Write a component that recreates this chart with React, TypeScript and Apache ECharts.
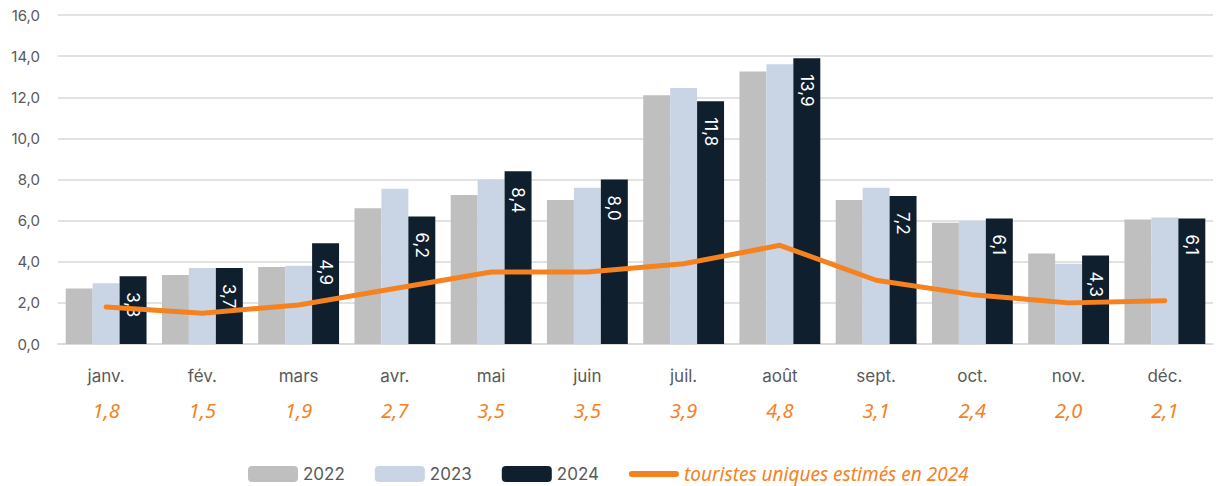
import React, { useEffect, useRef } from "react";
import * as echarts from "echarts";

const months = ["janv.", "fév.", "mars", "avr.", "mai", "juin", "juil.", "août", "sept.", "oct.", "nov.", "déc."];
const values2022 = [2.7, 3.35, 3.75, 6.6, 7.25, 7.0, 12.1, 13.25, 7.0, 5.9, 4.4, 6.05];
const values2023 = [2.95, 3.7, 3.8, 7.55, 8.0, 7.6, 12.45, 13.6, 7.6, 6.0, 3.9, 6.15];
const values2024 = [3.3, 3.7, 4.9, 6.2, 8.4, 8.0, 11.8, 13.9, 7.2, 6.1, 4.3, 6.1];
const tourists = [1.8, 1.5, 1.9, 2.7, 3.5, 3.5, 3.9, 4.8, 3.1, 2.4, 2.0, 2.1];
const yTicks = { min: 0, max: 16, interval: 2 };

const fmt = (v: number) => v.toFixed(1).replace(".", ",");
const FONT = "Inter, 'Noto Sans', sans-serif";
const HAND = "'Noto Sans', 'DejaVu Sans', sans-serif";
const ORANGE = "#f5821f";
const GRAY_TXT = "#595959";
const PILL_ICON =
  "path://M0,0 L0.05,0 L0,0.05 Z M50,16 L49.95,16 L50,15.95 Z " +
  "M3,5 L49,5 A3,3 0 0 1 49,11 L3,11 A3,3 0 0 1 3,5 Z";

export default function App() {
  const ref = useRef<HTMLDivElement>(null);
  useEffect(() => {
    if (!ref.current) return;
    const chart = echarts.init(ref.current, undefined, { renderer: "svg" });
    const lineName = "touristes uniques estimés en 2024";
    chart.setOption({
      animation: false,
      textStyle: { fontFamily: FONT },
      grid: { left: 58, right: 7, top: 15, bottom: 142 },
      legend: {
        left: 243,
        top: 459,
        itemWidth: 50,
        itemHeight: 16,
        itemGap: 30,
        textStyle: { color: GRAY_TXT, fontSize: 17, fontFamily: FONT, lineHeight: 20 },
        data: [
          { name: "2022" },
          { name: "2023" },
          { name: "2024" },
          {
            name: lineName,
            icon: PILL_ICON,
            itemStyle: { color: ORANGE },
            textStyle: {
              color: ORANGE,
              fontStyle: "italic",
              fontSize: 19,
              lineHeight: 20,
              fontFamily: HAND,
            },
          },
        ],
      },
      xAxis: {
        type: "category",
        data: months,
        axisLine: { lineStyle: { color: "#d9d9d9", width: 1.5 } },
        axisTick: { show: false },
        axisLabel: {
          margin: 21,
          interval: 0,
          formatter: (val: string, idx: number) => `{m|${val}}\n{v|${fmt(tourists[idx])}}`,
          rich: {
            m: { fontSize: 17, color: GRAY_TXT, lineHeight: 22, fontFamily: FONT },
            v: {
              fontSize: 20,
              color: ORANGE,
              fontStyle: "italic",
              fontWeight: "normal",
              lineHeight: 46,
              fontFamily: HAND,
            },
          },
        },
      },
      yAxis: {
        type: "value",
        min: yTicks.min,
        max: yTicks.max,
        interval: yTicks.interval,
        axisLabel: { formatter: (v: number) => fmt(v), color: GRAY_TXT, fontSize: 15, margin: 18 },
        splitLine: { lineStyle: { color: "#d9d9d9", width: 1.5 } },
      },
      series: [
        {
          name: "2022",
          type: "bar",
          data: values2022,
          barGap: "0%",
          barCategoryGap: "16%",
          itemStyle: { color: "#bfbfbf" },
        },
        {
          name: "2023",
          type: "bar",
          data: values2023,
          itemStyle: { color: "#c9d5e5" },
        },
        {
          name: "2024",
          type: "bar",
          data: values2024,
          itemStyle: { color: "#0f1f2e" },
          label: {
            show: true,
            position: "insideTop",
            rotate: -90,
            align: "left",
            verticalAlign: "middle",
            distance: 16,
            color: "#ffffff",
            fontSize: 17,
            formatter: (p: any) => fmt(p.value),
          },
        },
        {
          name: lineName,
          type: "line",
          data: tourists,
          symbol: "none",
          showSymbol: false,
          z: 10,
          lineStyle: { color: ORANGE, width: 5, cap: "round", join: "round" },
          itemStyle: { color: ORANGE },
        },
      ],
    });
    return () => chart.dispose();
  }, []);
  return (
    <div
      ref={ref}
      style={{ position: "fixed", left: 0, top: 0, width: 1220, height: 486, background: "#fff" }}
    />
  );
}
